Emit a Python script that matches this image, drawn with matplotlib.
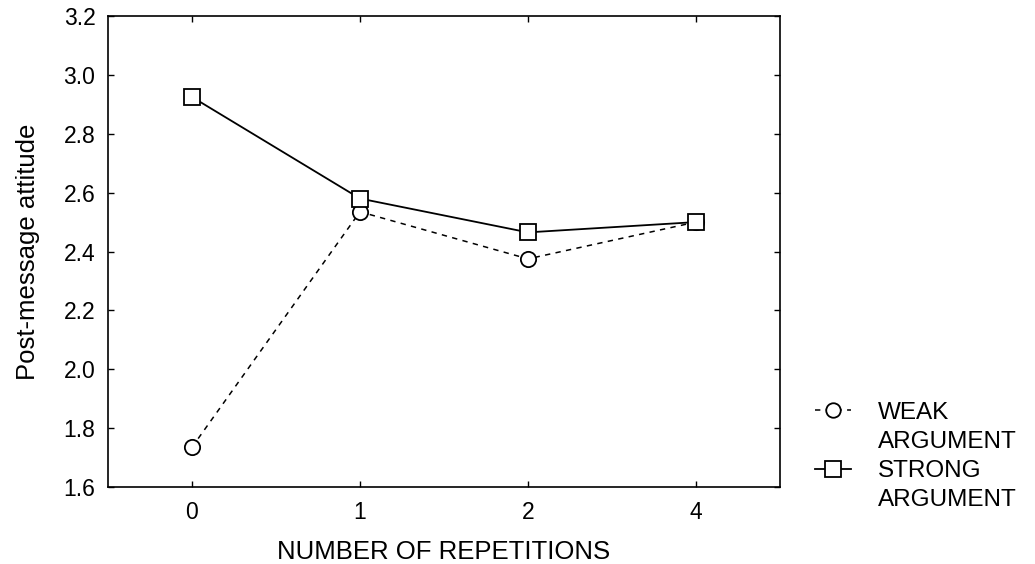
import matplotlib.pyplot as plt
from matplotlib.lines import Line2D

plt.rcParams['font.family'] = ['Liberation Sans', 'DejaVu Sans']

# data
reps = ['0', '1', '2', '4']
weak = [1.735, 2.535, 2.375, 2.50]
strong = [2.925, 2.58, 2.465, 2.50]

fig = plt.figure(figsize=(10.35, 5.64), dpi=100)
ax = fig.add_axes([0.1043, 0.1365, 0.6493, 0.8351])

x = list(range(len(reps)))
lw, = ax.plot(x, weak, color='black', linestyle=(0, (3.5, 3.5)), linewidth=1.1,
              marker='o', markersize=11, markerfacecolor='white',
              markeredgecolor='black', markeredgewidth=1.3)
ls, = ax.plot(x, strong, color='black', linestyle='-', linewidth=1.3,
              marker='s', markersize=11.5, markerfacecolor='white',
              markeredgecolor='black', markeredgewidth=1.3)

ax.set_xlim(-0.5, 3.5)
ax.set_ylim(1.6, 3.2)
ax.set_xticks(x)
ax.set_xticklabels(reps)
ax.set_yticks([1.6, 1.8, 2.0, 2.2, 2.4, 2.6, 2.8, 3.0, 3.2])
ax.set_yticklabels(['%.1f' % v for v in ax.get_yticks()])
ax.tick_params(direction='in', top=True, right=True, labelsize=16.5,
               length=4, width=1)
ax.tick_params(axis='y', pad=9)
ax.tick_params(axis='x', pad=10)
for s in ax.spines.values():
    s.set_linewidth(1.2)

ax.set_xlabel('NUMBER OF REPETITIONS', fontsize=18.5, labelpad=11.5)
ax.set_ylabel('Post-message attitude', fontsize=18.5, labelpad=17)

# legend: marker sits beside the first line of each label
blank = Line2D([], [], linestyle='none')
leg = ax.legend([lw, blank, ls, blank],
                ['WEAK', 'ARGUMENT', 'STRONG', 'ARGUMENT'],
                loc='upper left', bbox_to_anchor=(0.787, 0.288),
                bbox_transform=fig.transFigure, frameon=False, fontsize=17.5,
                handlelength=1.5, handletextpad=1.1, labelspacing=0.3,
                markerscale=0.95, borderaxespad=0, borderpad=0)

fig.savefig('out.png', dpi=100)
